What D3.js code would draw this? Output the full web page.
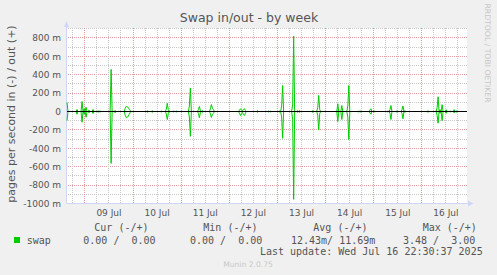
<!DOCTYPE html>
<html>
<head>
<meta charset="utf-8">
<script src="https://cdn.jsdelivr.net/npm/d3@7"></script>
<style>
  html, body { margin: 0; padding: 0; background: #f0f0f0; }
  svg { display: block; }
  .mono { font-family: "DejaVu Sans Mono", monospace; font-size: 10px; fill: #555; white-space: pre; }
</style>
</head>
<body>
<svg id="chart" width="497" height="275"></svg>
<script>
// Time window of the week graph (30 min per sample)
const startTime = new Date(2025, 6, 8, 15, 20);
const endTime   = new Date(2025, 6, 16, 22, 45);
const lastSlot  = 398;

// Non-zero samples (half-hour slot index, milli pages/s)
const spikeSlots = [0, 10, 15, 17, 19, 22, 26, 31, 33, 44, 48,
  58, 59, 60, 61, 62, 63, 80, 85, 94, 99, 100, 101, 106, 109,
  122, 123, 131, 132, 133, 135, 143, 144, 145, 146,
  172, 173, 174, 175, 176, 177, 178, 190, 201, 203, 212,
  214, 215, 225, 226, 230, 232, 245, 250, 251, 252,
  270, 274, 280, 281, 291, 293, 302, 303, 306, 320, 322, 323, 329,
  334, 335, 337, 360, 369, 370, 372, 374, 378, 382, 386, 388];
const swapOut = [100, 22, 109, 30, 47, 15, 22, 8, 5, 458, 11,
  35, 55, 50, 45, 25, 10, 8, 8, 5, 25, 90, 20, 5, 5,
  60, 256, 20, 55, 10, 8, 30, 76, 35, 20,
  15, 30, 15, 10, 25, 30, 10, 8, 5, 4, 5,
  60, 283, 80, 818, 10, 10, 8, 40, 175, 20,
  84, 65, 60, 283, 5, 5, 15, 30, 8, 5, 20, 65, 8,
  20, 60, 8, 8, 40, 160, 20, 75, 20, 5, 20, 8];
const swapIn = [100, 30, 117, 30, 62, 15, 22, 8, 5, 564, 14,
  40, 65, 60, 55, 30, 12, 8, 8, 5, 25, 88, 20, 5, 5,
  60, 270, 20, 68, 10, 8, 25, 65, 30, 20,
  20, 44, 20, 10, 35, 44, 15, 8, 5, 4, 5,
  60, 291, 90, 955, 10, 10, 8, 40, 200, 20,
  109, 87, 60, 305, 5, 5, 15, 30, 8, 5, 20, 87, 8,
  20, 80, 8, 8, 40, 127, 20, 100, 20, 5, 15, 8];

const yTicks = [-1000, -800, -600, -400, -200, 0, 200, 400, 600, 800];
const dayLabels = ["09 Jul", "10 Jul", "11 Jul", "12 Jul", "13 Jul", "14 Jul", "15 Jul", "16 Jul"];
const legendHeads = ["Cur (-/+)", "Min (-/+)", "Avg (-/+)", "Max (-/+)"];
const legendVals  = ["0.00 /  0.00", "0.00 /  0.00", "12.43m/ 11.69m", "3.48 /  3.00"];

const green = "#00cc00";
const axisColor = "#cfd6f8";
const svg = d3.select("#chart");

const plot = { left: 67, right: 467, top: 28, bottom: 203.5 };
const x = d3.scaleTime().domain([startTime, endTime]).range([plot.left, plot.right]);
// range top tuned so that zero falls on a pixel centre
const y = d3.scaleLinear().domain([-1000, 900]).range([plot.bottom, 28.7]);

// dense series: slots not listed sit on zero
const outBy = new Map(spikeSlots.map((s, i) => [s, swapOut[i]]));
const inBy  = new Map(spikeSlots.map((s, i) => [s, swapIn[i]]));
const series = d3.range(0, lastSlot + 1).map(k => ({
  t: d3.timeMinute.offset(startTime, 30 * k),
  out: outBy.get(k) || 0,
  in: -(inBy.get(k) || 0)
}));

// dotted patterns for the grid (1px on / 1px off)
const minorCol = "#c8c8c8", majorCol = "#e29c9c";
const defs = svg.append("defs");
[["hMinor", minorCol, 2, 1], ["hMajor", majorCol, 2, 1],
 ["vMinor", minorCol, 1, 2], ["vMajor", majorCol, 1, 2]].forEach(([id, col, w, h]) => {
  defs.append("pattern")
    .attr("id", id).attr("patternUnits", "userSpaceOnUse")
    .attr("width", w).attr("height", h)
    .append("rect").attr("width", 1).attr("height", 1).attr("fill", col);
});

// canvas
svg.append("rect")
  .attr("x", plot.left).attr("y", plot.top)
  .attr("width", plot.right - plot.left).attr("height", plot.bottom - plot.top)
  .attr("fill", "#fff");

// grid
const grid = svg.append("g").attr("class", "grid").attr("shape-rendering", "crispEdges");
const hLines = d3.range(-1000, 901, 100);
grid.selectAll("rect.h")
  .data(hLines)
  .join("rect")
    .attr("class", "h")
    .attr("x", plot.left).attr("width", plot.right - plot.left)
    .attr("y", d => Math.floor(y(d))).attr("height", 1)
    .attr("fill", d => d % 200 === 0 ? "url(#hMajor)" : "url(#hMinor)");

const vLines = d3.timeHour.every(6).range(startTime, endTime);
grid.selectAll("rect.v")
  .data(vLines)
  .join("rect")
    .attr("class", "v")
    .attr("x", d => Math.round(x(d))).attr("width", 1)
    .attr("y", plot.top).attr("height", Math.round(plot.bottom - plot.top))
    .attr("fill", d => d.getHours() === 0 ? "url(#vMajor)" : "url(#vMinor)");

// axes lines + arrows
svg.append("line")
  .attr("x1", plot.left - 0.5).attr("x2", plot.left - 0.5)
  .attr("y1", plot.bottom).attr("y2", plot.top - 3)
  .attr("stroke", axisColor);
svg.append("path")
  .attr("d", `M${plot.left - 0.5},21 L${plot.left - 3},27 L${plot.left + 2},27 Z`)
  .attr("fill", axisColor);
svg.append("line")
  .attr("x1", plot.left).attr("x2", plot.right + 2)
  .attr("y1", plot.bottom).attr("y2", plot.bottom)
  .attr("stroke", axisColor);
svg.append("path")
  .attr("d", `M473.5,${plot.bottom} L468,${plot.bottom - 3} L468,${plot.bottom + 3} Z`)
  .attr("fill", axisColor);

// data lines
const lineOut = d3.line().x(d => x(d.t)).y(d => y(d.out));
const lineIn  = d3.line().x(d => x(d.t)).y(d => y(d.in));
svg.append("path").datum(series)
  .attr("fill", "none").attr("stroke", green).attr("stroke-width", 1)
  .attr("d", lineIn);
svg.append("path").datum(series)
  .attr("fill", "none").attr("stroke", green).attr("stroke-width", 1)
  .attr("d", lineOut);

// zero line
svg.append("line")
  .attr("x1", plot.left).attr("x2", plot.right)
  .attr("y1", y(0)).attr("y2", y(0))
  .attr("stroke", "#000");

// y axis labels
const yAxis = svg.append("g")
  .attr("transform", `translate(${plot.left},0)`)
  .call(d3.axisLeft(y).tickValues(yTicks).tickSize(0).tickPadding(6)
    .tickFormat(d => d === 0 ? "0" : d + " m"));
yAxis.select(".domain").remove();
yAxis.selectAll("text")
  .attr("font-family", "DejaVu Sans").attr("font-size", 9).attr("fill", "#555");

// x axis labels (noon of each day)
const noons = dayLabels.map((_, i) => new Date(2025, 6, 9 + i, 12));
const xAxis = svg.append("g")
  .attr("transform", `translate(0,${plot.bottom})`)
  .call(d3.axisBottom(x).tickValues(noons).tickSize(0)
    .tickFormat((d, i) => dayLabels[i]));
xAxis.select(".domain").remove();
xAxis.selectAll("text")
  .attr("y", 12.5).attr("dy", 0)
  .attr("font-family", "DejaVu Sans").attr("font-size", 9).attr("fill", "#555");

// title and axis title
svg.append("text")
  .attr("x", 249).attr("y", 22)
  .attr("text-anchor", "middle")
  .attr("font-family", "DejaVu Sans").attr("font-size", 12.5).attr("fill", "#555")
  .text("Swap in/out - by week");

svg.append("text")
  .attr("transform", "translate(15,114) rotate(-90)")
  .attr("text-anchor", "middle")
  .attr("font-family", "DejaVu Sans").attr("font-size", 11).attr("fill", "#555")
  .text("pages per second in (-) / out (+)");

svg.append("text")
  .attr("transform", "translate(485,53) rotate(90)")
  .attr("text-anchor", "middle")
  .attr("font-family", "DejaVu Sans").attr("font-size", 7.7).attr("fill", "#c8c8c8")
  .text("RRDTOOL / TOBI OETIKER");

// legend
const headX = [94.3, 203.3, 313.3, 422.7];
const valX  = [83.3, 190, 291, 403];
svg.selectAll("text.head")
  .data(legendHeads)
  .join("text")
    .attr("class", "head mono")
    .attr("x", (d, i) => headX[i]).attr("y", 230.5)
    .text(d => d);

svg.append("rect")
  .attr("x", 14).attr("y", 237).attr("width", 6).attr("height", 6)
  .attr("fill", green);
svg.append("text").attr("class", "mono")
  .attr("x", 26.7).attr("y", 243.5).text("swap");

svg.selectAll("text.val")
  .data(legendVals)
  .join("text")
    .attr("class", "val mono")
    .attr("x", (d, i) => valX[i]).attr("y", 243.5)
    .text(d => d);

svg.append("text").attr("class", "mono")
  .attr("x", 482.7).attr("y", 255).attr("text-anchor", "end")
  .text("Last update: Wed Jul 16 22:30:37 2025");

svg.append("text")
  .attr("x", 248).attr("y", 267)
  .attr("text-anchor", "middle")
  .attr("font-family", "DejaVu Sans").attr("font-size", 7.6).attr("fill", "#c8c8c8")
  .text("Munin 2.0.75");
</script>
</body>
</html>
